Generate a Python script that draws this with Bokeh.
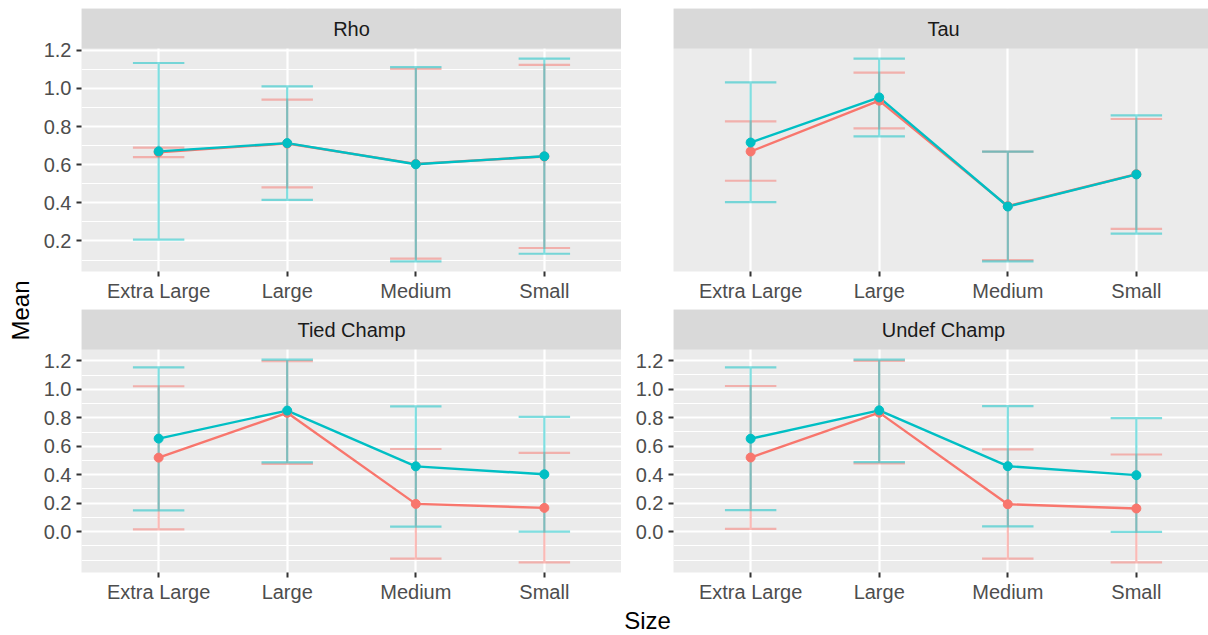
import math
from bokeh.plotting import figure
from bokeh.layouts import row, column
from bokeh.models import Range1d, FixedTicker, PrintfTickFormatter, BoxAnnotation, Label
from bokeh.core.properties import value
from bokeh.embed import file_html
from bokeh.resources import INLINE

# ---------------- data ----------------
categories = ["Extra Large", "Large", "Medium", "Small"]
facets = ["Rho", "Tau", "Tied Champ", "Undef Champ"]
y_breaks = [0.0, 0.2, 0.4, 0.6, 0.8, 1.0, 1.2]

# group A (red) and group B (cyan): mean, lower, upper per size
rho_mean_a = [0.665, 0.711, 0.604, 0.643]
rho_lo_a = [0.640, 0.481, 0.107, 0.163]
rho_hi_a = [0.689, 0.941, 1.102, 1.123]
rho_mean_b = [0.670, 0.713, 0.602, 0.644]
rho_lo_b = [0.207, 0.415, 0.093, 0.133]
rho_hi_b = [1.133, 1.011, 1.112, 1.156]

tau_mean_a = [0.668, 0.934, 0.382, 0.549]
tau_lo_a = [0.515, 0.789, 0.100, 0.263]
tau_hi_a = [0.826, 1.081, 0.667, 0.838]
tau_mean_b = [0.715, 0.951, 0.380, 0.548]
tau_lo_b = [0.403, 0.747, 0.093, 0.238]
tau_hi_b = [1.030, 1.154, 0.667, 0.857]

tied_mean_a = [0.520, 0.835, 0.195, 0.167]
tied_lo_a = [0.016, 0.476, -0.190, -0.216]
tied_hi_a = [1.022, 1.198, 0.581, 0.553]
tied_mean_b = [0.654, 0.851, 0.459, 0.403]
tied_lo_b = [0.150, 0.487, 0.035, 0.000]
tied_hi_b = [1.155, 1.209, 0.881, 0.806]

undef_mean_a = [0.520, 0.835, 0.192, 0.162]
undef_lo_a = [0.019, 0.478, -0.190, -0.216]
undef_hi_a = [1.022, 1.198, 0.577, 0.541]
undef_mean_b = [0.652, 0.851, 0.459, 0.396]
undef_lo_b = [0.150, 0.487, 0.037, -0.002]
undef_hi_b = [1.153, 1.207, 0.881, 0.797]

# ---------------- style ----------------
FONT = "Liberation Sans"
RED = "#F8766D"
CYAN = "#00BFC4"
PANEL_BG = "#EBEBEB"
STRIP_BG = "#D9D9D9"
DATA_H = 223     # height of the data area of a panel, px
STRIP_H = 40     # height of the facet strip, px


def minor_breaks(lo, hi):
    inside = [b for b in y_breaks if lo <= b <= hi]
    if len(inside) < 2:
        return []
    step = inside[1] - inside[0]
    ext = list(inside)
    if lo < ext[0]:
        ext = [ext[0] - step] + ext
    if hi > ext[-1]:
        ext = ext + [ext[-1] + step]
    out = []
    for i in range(len(ext) - 1):
        out += [ext[i], (ext[i] + ext[i + 1]) / 2]
    out.append(ext[-1])
    return [round(m, 3) for m in out if lo <= m <= hi]


def panel(name, series, width, border_left, border_top, border_bottom, x_end, show_y):
    allv = []
    for _, m, lo, hi in series:
        allv += lo + hi
    vmin, vmax = min(allv), max(allv)
    pad = 0.05 * (vmax - vmin)
    y0, y1 = vmin - pad, vmax + pad
    upp = (y1 - y0) / DATA_H
    y_top = y1 + STRIP_H * upp
    p = figure(width=width, height=border_top + DATA_H + STRIP_H + border_bottom, title=None,
               x_range=Range1d(0.4, x_end), y_range=Range1d(y0, y_top),
               min_border_left=border_left, min_border_right=0,
               min_border_top=border_top, min_border_bottom=border_bottom,
               background_fill_color=PANEL_BG, border_fill_color="white",
               outline_line_color=None, toolbar_location=None,
               output_backend="svg")
    xs_pos = [i + 1 for i in range(len(categories))]
    xt = FixedTicker(ticks=xs_pos)
    p.xaxis.ticker = xt
    p.xgrid.ticker = xt
    p.xaxis.major_label_overrides = {x: c for x, c in zip(xs_pos, categories)}
    yt = FixedTicker(ticks=[b for b in y_breaks if y0 <= b <= y1],
                     minor_ticks=minor_breaks(y0, y1))
    p.yaxis.ticker = yt
    p.ygrid.ticker = yt
    p.yaxis.formatter = PrintfTickFormatter(format="%.1f")
    for ax in (p.xaxis, p.yaxis):
        ax.axis_line_color = None
        ax.major_tick_line_color = "#333333"
        ax.major_tick_line_width = 2
        ax.major_tick_out = 5
        ax.major_tick_in = 0
        ax.minor_tick_line_color = None
        ax.major_label_text_font = FONT
        ax.major_label_text_font_size = "20px"
        ax.major_label_text_color = "#4D4D4D"
    p.xaxis.major_label_standoff = 3
    p.yaxis.major_label_standoff = 5
    p.xgrid.grid_line_color = "white"
    p.xgrid.grid_line_width = 2.2
    if show_y:
        p.ygrid.grid_line_color = "white"
        p.ygrid.grid_line_width = 2.2
        p.ygrid.minor_grid_line_color = "white"
        p.ygrid.minor_grid_line_width = 1.1
    else:
        p.yaxis.visible = False
        p.ygrid.grid_line_color = None

    w = 0.2
    for col, m, lo, hi in series:
        exs, eys = [], []
        for x, l, h in zip(xs_pos, lo, hi):
            exs.append([x - w, x + w, x, x, x - w, x + w])
            eys.append([h, h, h, l, l, l])
        p.multi_line(exs, eys, line_color=col, line_alpha=0.5, line_width=2.2)
    for col, m, lo, hi in series:
        p.line(xs_pos, m, line_color=col, line_width=2.4)
    for col, m, lo, hi in series:
        p.scatter(xs_pos, m, size=9, fill_color=col, line_color=col)

    # facet strip on top of the data area
    p.add_layout(BoxAnnotation(bottom=y1, fill_color=STRIP_BG, fill_alpha=1.0,
                               line_color=None, level="overlay"))
    p.add_layout(Label(x=2.5, y=y1 + STRIP_H / 2 * upp, text=name,
                       text_align="center", text_baseline="middle",
                       text_font=FONT, text_font_size="20px",
                       text_color="#1A1A1A", level="overlay"))
    return p


LEFT_W, LEFT_BL = 585, 45
RIGHT_W, RIGHT_BL = 587, 52
RIGHT_XEND = 0.4 + 535 / (540 / 4.2)

rho = panel(facets[0], [(RED, rho_mean_a, rho_lo_a, rho_hi_a), (CYAN, rho_mean_b, rho_lo_b, rho_hi_b)],
            LEFT_W, LEFT_BL, 8, 38, 4.6, True)
tau = panel(facets[1], [(RED, tau_mean_a, tau_lo_a, tau_hi_a), (CYAN, tau_mean_b, tau_lo_b, tau_hi_b)],
            RIGHT_W, RIGHT_BL, 8, 38, RIGHT_XEND, False)
tied = panel(facets[2], [(RED, tied_mean_a, tied_lo_a, tied_hi_a), (CYAN, tied_mean_b, tied_lo_b, tied_hi_b)],
             LEFT_W, LEFT_BL, 0, 33, 4.6, True)
undef = panel(facets[3], [(RED, undef_mean_a, undef_lo_a, undef_hi_a), (CYAN, undef_mean_b, undef_lo_b, undef_hi_b)],
              RIGHT_W, RIGHT_BL, 0, 33, RIGHT_XEND, True)

top_row = row(rho, tau)
bot_row = row(tied, undef)

size_fig = figure(width=1172, height=30, title=None, x_range=Range1d(0, 1172),
                  y_range=Range1d(0, 30), x_axis_type=None, y_axis_type=None,
                  min_border=0, outline_line_color=None, toolbar_location=None,
                  output_backend="svg")
size_fig.grid.visible = False
size_fig.text(x=[611], y=[15], text=["Size"], text_align="center",
              text_baseline="middle", text_font=value(FONT),
              text_font_size="24px", text_color="black")

mean_fig = figure(width=36, height=635, title=None, x_range=Range1d(0, 36),
                  y_range=Range1d(0, 635), x_axis_type=None, y_axis_type=None,
                  min_border=0, outline_line_color=None, toolbar_location=None,
                  output_backend="svg")
mean_fig.grid.visible = False
mean_fig.text(x=[20], y=[325], text=["Mean"], angle=math.pi / 2,
              text_align="center", text_baseline="middle", text_font=value(FONT),
              text_font_size="24px", text_color="black")

layout = row(mean_fig, column(top_row, bot_row, size_fig))

open("out.html", "w").write(file_html(layout, INLINE))
